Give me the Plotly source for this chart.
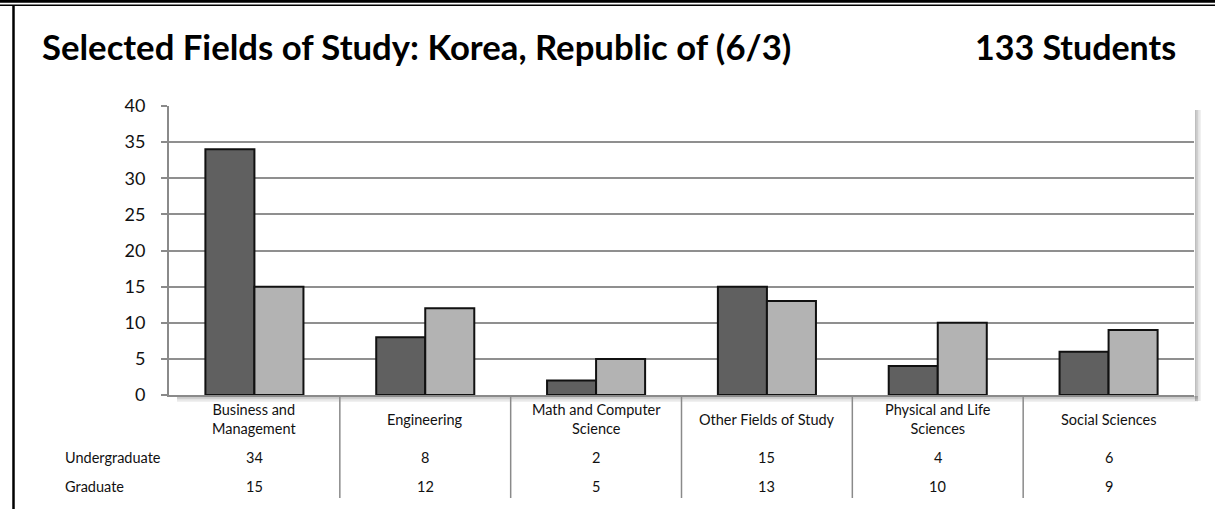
import plotly.graph_objects as go

# Chart data
categories = ["Business and Management", "Engineering", "Math and Computer Science",
              "Other Fields of Study", "Physical and Life Sciences", "Social Sciences"]
category_labels = ["Business and<br>Management", "Engineering", "Math and Computer<br>Science",
                   "Other Fields of Study", "Physical and Life<br>Sciences", "Social Sciences"]
undergraduate = [34, 8, 2, 15, 4, 6]
graduate = [15, 12, 5, 13, 10, 9]
series_names = ["Undergraduate", "Graduate"]
y_ticks = [0, 5, 10, 15, 20, 25, 30, 35, 40]

W, H = 1215, 509
FONT = "Lato"

# plot area in pixels
X0, X1 = 169, 1194
Y_TOP, Y_BOT = 106, 395


def px(x):
    return x / W


def py(y):
    return 1 - y / H


fig = go.Figure()
fig.add_trace(go.Bar(x=categories, y=undergraduate, name=series_names[0],
                     marker=dict(color="#606060", line=dict(color="#111111", width=2))))
fig.add_trace(go.Bar(x=categories, y=graduate, name=series_names[1],
                     marker=dict(color="#b3b3b3", line=dict(color="#111111", width=2))))

shapes = []
annotations = []

# drop shadow of the plot area
for i, op in enumerate([0.35, 0.25, 0.15, 0.08]):
    shapes.append(dict(type="rect", xref="paper", yref="paper", layer="below",
                       x0=px(X1 + 1 + i * 1.5), x1=px(X1 + 2.5 + i * 1.5),
                       y0=py(Y_BOT + 6), y1=py(Y_TOP + 4),
                       fillcolor="#444444", opacity=op, line=dict(width=0)))
    shapes.append(dict(type="rect", xref="paper", yref="paper", layer="below",
                       x0=px(X0 + 8), x1=px(X1 + 4),
                       y0=py(Y_BOT + 2.5 + i * 1.5), y1=py(Y_BOT + 1 + i * 1.5),
                       fillcolor="#444444", opacity=op, line=dict(width=0)))

# outer frame
shapes.append(dict(type="line", xref="paper", yref="paper", x0=0, x1=1,
                   y0=py(1.3), y1=py(1.3), line=dict(color="#000000", width=3)))
shapes.append(dict(type="line", xref="paper", yref="paper", x0=0, x1=1,
                   y0=py(5.3), y1=py(5.3), line=dict(color="#000000", width=1.5)))
shapes.append(dict(type="line", xref="paper", yref="paper", x0=px(13.5), x1=px(13.5),
                   y0=py(5.3), y1=0, line=dict(color="#000000", width=2.5)))

# data table column dividers
for i in range(1, len(categories)):
    shapes.append(dict(type="line", xref="x", yref="paper", x0=i - 0.5, x1=i - 0.5,
                       y0=py(396), y1=py(498), line=dict(color="#8a8a8a", width=1.5)))

TABLE_FONT = dict(size=14.5, color="#111111", family=FONT)

# data table text
for i, lab in enumerate(category_labels):
    annotations.append(dict(x=categories[i], y=py(419), xref="x", yref="paper",
                            xanchor="center", yanchor="middle",
                            text=lab, showarrow=False, font=TABLE_FONT))
    annotations.append(dict(x=categories[i], y=py(457), xref="x", yref="paper",
                            xanchor="center", yanchor="middle",
                            text=str(undergraduate[i]), showarrow=False, font=TABLE_FONT))
    annotations.append(dict(x=categories[i], y=py(486), xref="x", yref="paper",
                            xanchor="center", yanchor="middle",
                            text=str(graduate[i]), showarrow=False, font=TABLE_FONT))
for name, yy in zip(series_names, [457, 486]):
    annotations.append(dict(x=px(63), y=py(yy), xref="paper", yref="paper",
                            xanchor="left", yanchor="middle",
                            text=name, showarrow=False, font=TABLE_FONT))

# headings
annotations.append(dict(x=px(40), y=py(46), xref="paper", yref="paper",
                        xanchor="left", yanchor="middle",
                        text="<b>Selected Fields of Study: Korea, Republic of (6/3)</b>",
                        showarrow=False, font=dict(size=34.7, color="#000000", family=FONT)))
annotations.append(dict(x=px(1178), y=py(46), xref="paper", yref="paper",
                        xanchor="right", yanchor="middle",
                        text="<b>133 Students</b>",
                        showarrow=False, font=dict(size=34, color="#000000", family=FONT)))

fig.update_layout(
    width=W, height=H,
    margin=dict(l=0, r=0, t=0, b=0, pad=0, autoexpand=False),
    paper_bgcolor="#ffffff", plot_bgcolor="#ffffff",
    barmode="group", bargap=0.426, bargroupgap=0,
    showlegend=False,
    shapes=shapes, annotations=annotations,
    xaxis=dict(domain=[px(X0), px(X1)], type="category", showticklabels=False,
               showgrid=False, showline=True, linecolor="#8a8a8a", linewidth=2,
               ticks="", zeroline=False, fixedrange=True, automargin=False),
    yaxis=dict(domain=[py(Y_BOT), py(Y_TOP)], range=[0, 40], tickvals=y_ticks,
               showgrid=True, gridcolor="#8f8f8f", gridwidth=2,
               showline=True, linecolor="#8a8a8a", linewidth=2,
               ticks="outside", ticklen=6, tickwidth=2, tickcolor="#8a8a8a",
               ticklabelstandoff=12,
               tickfont=dict(size=18, color="#111111", family=FONT),
               zeroline=False, fixedrange=True, automargin=False),
)

fig.write_html("out.html")
